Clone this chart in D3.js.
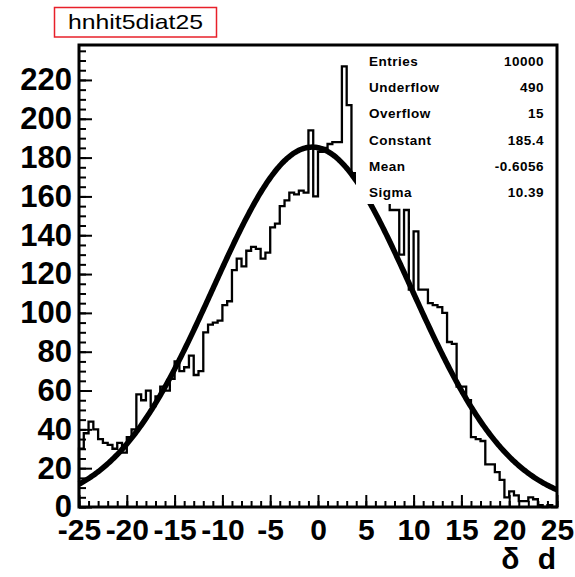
<!DOCTYPE html>
<html><head><meta charset="utf-8">
<script src="https://cdn.jsdelivr.net/npm/d3@7"></script>
<style>body{margin:0;background:#fff}svg{display:block}</style>
</head><body>
<script>
// ---- data ----
const title = "hnhit5diat25";
const xDomain = [-25, 25];
const yDomain = [0, 238];
const binWidth = 0.5;
const binCounts = [
  30,38,44,40,35,33,32,30,33,28,
  36,40,58,55,60,52,57,62,60,66,
  75,70,72,78,68,70,90,94,95,96,
  104,106,122,128,124,132,134,133,128,131,
  144,146,155,158,162,161,163,162,194,160,
  183,185,187,188,188,227,207,172,170,165,
  175,160,168,158,162,153,153,130,153,112,
  142,112,112,105,104,103,100,85,84,62,
  62,55,36,35,34,22,22,18,14,5,
  8,6,3,3,5,4,1,0,1,0
];
const yTicks = [0,20,40,60,80,100,120,140,160,180,200,220];
const xTicks = [-25,-20,-15,-10,-5,0,5,10,15,20,25];
const statLabels = ["Entries","Underflow","Overflow","Constant","Mean","Sigma"];
const statValues = ["10000","490","15","185.4","-0.6056","10.39"];
const fitConstant = 185.4, fitMean = -0.6056, fitSigma = 10.39;
const xTitle = "\u03b4 d";

// ---- drawing ----
const W = 575, H = 577;
const L = 79, R = 557, T = 45, B = 507;
const svg = d3.select("body").append("svg").attr("width", W).attr("height", H)
  .style("font-family", "'Liberation Sans', Arial, Helvetica, sans-serif");
svg.append("rect").attr("width", W).attr("height", H).attr("fill", "#fff");

const x = d3.scaleLinear().domain(xDomain).range([L, R]);
const y = d3.scaleLinear().domain(yDomain).range([B, T]);

// title box
svg.append("rect").attr("x", 54.5).attr("y", 7.5).attr("width", 162).attr("height", 29.5)
  .attr("fill", "#fff").attr("stroke", "#e8202a").attr("stroke-width", 1.5);
svg.append("text").attr("x", 68).attr("y", 29).attr("font-size", 21)
  .attr("textLength", 135).attr("lengthAdjust", "spacingAndGlyphs").text(title);

// histogram
const pts = [[xDomain[0], 0]];
binCounts.forEach((c, i) => {
  const e0 = xDomain[0] + i * binWidth;
  pts.push([e0, c], [e0 + binWidth, c]);
});
pts.push([xDomain[1], 0]);
svg.append("path").datum(pts)
  .attr("d", d3.line().x(d => x(d[0])).y(d => y(d[1])))
  .attr("fill", "none").attr("stroke", "#000").attr("stroke-width", 2.3);

// fit
const fx = d3.range(0, 401).map(i => xDomain[0] + i * (xDomain[1] - xDomain[0]) / 400);
const gauss = v => fitConstant * Math.exp(-0.5 * Math.pow((v - fitMean) / fitSigma, 2));
svg.append("path").datum(fx)
  .attr("d", d3.line().x(d => x(d)).y(d => y(gauss(d))))
  .attr("fill", "none").attr("stroke", "#000").attr("stroke-width", 5.5);

// stats box
svg.append("rect").attr("x", 356).attr("y", T).attr("width", R - 356).attr("height", 204 - T)
  .attr("fill", "#fff");
const sg = svg.append("g").attr("font-size", 13.5).attr("font-weight", "bold").attr("letter-spacing", 0.5);
statLabels.forEach((s, i) => {
  const by = 66 + i * 26.2;
  sg.append("text").attr("x", 369).attr("y", by).text(s);
  sg.append("text").attr("x", 544).attr("y", by).attr("text-anchor", "end").text(statValues[i]);
});

// axes
const yMinor = d3.range(0, 236, 5);
const xMinor = d3.range(-25, 26, 1);
svg.append("g").attr("transform", `translate(${L},0)`)
  .call(d3.axisLeft(y).tickValues(yMinor).tickSize(-7).tickFormat("")).call(g => g.select(".domain").remove())
  .selectAll("line").attr("stroke-width", 2);
svg.append("g").attr("transform", `translate(${L},0)`)
  .call(d3.axisLeft(y).tickValues(yTicks).tickSize(-13).tickPadding(7).tickFormat(d3.format("d")))
  .call(g => g.select(".domain").remove())
  .call(g => g.selectAll("line").attr("stroke-width", 2))
  .call(g => g.selectAll("text").attr("font-size", 31).attr("font-weight", "bold")
    .attr("font-family", "'Liberation Sans', Arial, sans-serif").attr("fill", "#000"));
svg.append("g").attr("transform", `translate(0,${B})`)
  .call(d3.axisBottom(x).tickValues(xMinor).tickSize(-6).tickFormat("")).call(g => g.select(".domain").remove())
  .selectAll("line").attr("stroke-width", 2);
svg.append("g").attr("transform", `translate(0,${B})`)
  .call(d3.axisBottom(x).tickValues(xTicks).tickSize(-12).tickPadding(12).tickFormat(d => String(d)))
  .call(g => g.select(".domain").remove())
  .call(g => g.selectAll("line").attr("stroke-width", 2))
  .call(g => g.selectAll("text").attr("font-size", 30).attr("font-weight", "bold")
    .attr("font-family", "'Liberation Sans', Arial, sans-serif").attr("fill", "#000"));

// frame
svg.append("rect").attr("x", L).attr("y", T).attr("width", R - L).attr("height", B - T)
  .attr("fill", "none").attr("stroke", "#000").attr("stroke-width", 3);

// x title
svg.append("text").attr("x", 556).attr("y", 569).attr("text-anchor", "end")
  .attr("font-size", 30).attr("font-weight", "bold").attr("word-spacing", 10).text(xTitle);
</script>
</body></html>
